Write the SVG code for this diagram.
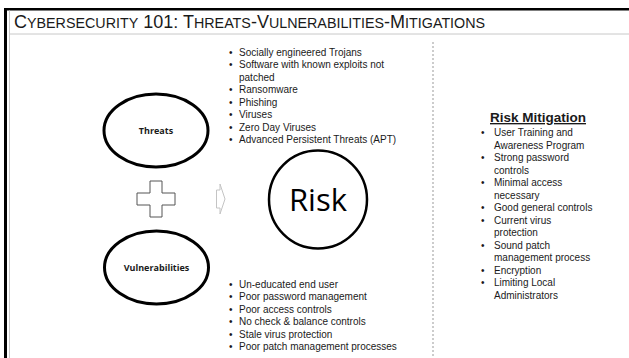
<svg xmlns="http://www.w3.org/2000/svg" width="629" height="358" viewBox="0 0 629 358">
<style>
.list{font-family:"Liberation Sans",Arial,sans-serif;font-size:10px;fill:#1a1a1a}
.lbl{font-family:"Open Sans","Noto Sans",sans-serif;font-size:9px;font-weight:bold;fill:#1a1a1a;text-anchor:middle}
.oval{fill:#fff;stroke:#000;stroke-width:3}
.big{font-size:18px}
.sm{font-size:14.3px}
</style>
<rect x="0" y="0" width="629" height="358" fill="#fff"/>
<g id="frame">
<rect x="4" y="8" width="3" height="350" fill="#000"/>
<rect x="4" y="8" width="625" height="2.5" fill="#000"/>
<line x1="9.5" y1="10.5" x2="9.5" y2="358" stroke="#c8c8c8" stroke-width="1"/>
<line x1="9.5" y1="34" x2="629" y2="34" stroke="#c8c8c8" stroke-width="1"/>
<line x1="433" y1="42" x2="433" y2="358" stroke="#999" stroke-width="1" stroke-dasharray="2 2"/>
</g>
<g id="title">
<text x="14" y="28" font-family="Liberation Sans,Arial,sans-serif" fill="#1a1a1a"><tspan class="big">C</tspan><tspan class="sm">YBERSECURITY</tspan><tspan class="big"> 101: T</tspan><tspan class="sm">HREATS</tspan><tspan class="big">-V</tspan><tspan class="sm">ULNERABILITIES</tspan><tspan class="big">-M</tspan><tspan class="sm">ITIGATIONS</tspan></text>
</g>
<g id="threats">
<ellipse class="oval" cx="156" cy="130.5" rx="52" ry="36.5"/>
<text class="lbl" x="156" y="134">Threats</text>
</g>
<g id="vulnerabilities">
<ellipse class="oval" cx="156.5" cy="267.5" rx="52" ry="36.5"/>
<text class="lbl" x="156.5" y="271">Vulnerabilities</text>
</g>
<g id="plus">
<path d="M150,181 H162 V193 H175 V205 H162 V217 H150 V205 H137 V193 H150 Z" fill="#fff" stroke="#555" stroke-width="1"/>
</g>
<g id="connectors">
<path d="M216.5,190 H220 V184 L225,199 L220,214 V208 H216.5 Z" fill="#fff" stroke="#c4c4c4" stroke-width="1"/>
</g>
<g id="risk">
<circle cx="318" cy="199.5" r="49" fill="#fff" stroke="#000" stroke-width="2.5"/>
<text x="318" y="210.5" text-anchor="middle" font-family="Open Sans,Noto Sans,sans-serif" font-size="31" fill="#000">Risk</text>
</g>
<g id="threats-list" class="list">
<text x="229" y="55.5">•</text><text x="239" y="55.5">Socially engineered Trojans</text>
<text x="229" y="68">•</text><text x="239" y="68">Software with known exploits not</text>
<text x="239" y="80.5">patched</text>
<text x="229" y="93">•</text><text x="239" y="93">Ransomware</text>
<text x="229" y="105.5">•</text><text x="239" y="105.5">Phishing</text>
<text x="229" y="118">•</text><text x="239" y="118">Viruses</text>
<text x="229" y="130.5">•</text><text x="239" y="130.5">Zero Day Viruses</text>
<text x="229" y="143">•</text><text x="239" y="143">Advanced Persistent Threats (APT)</text>
</g>
<g id="vulnerabilities-list" class="list">
<text x="229" y="287.5">•</text><text x="239" y="287.5">Un-educated end user</text>
<text x="229" y="300">•</text><text x="239" y="300">Poor password management</text>
<text x="229" y="312.5">•</text><text x="239" y="312.5">Poor access controls</text>
<text x="229" y="325">•</text><text x="239" y="325">No check &amp; balance controls</text>
<text x="229" y="337.5">•</text><text x="239" y="337.5">Stale virus protection</text>
<text x="229" y="350">•</text><text x="239" y="350">Poor patch management processes</text>
</g>
<g id="mitigation" class="list">
<text x="490" y="122" font-size="13.5" font-weight="bold" text-decoration="underline">Risk Mitigation</text>
<text x="481" y="136">•</text><text x="494" y="136">User Training and</text>
<text x="494" y="148.5">Awareness Program</text>
<text x="481" y="161">•</text><text x="494" y="161">Strong password</text>
<text x="494" y="173.5">controls</text>
<text x="481" y="186">•</text><text x="494" y="186">Minimal access</text>
<text x="494" y="198.5">necessary</text>
<text x="481" y="211">•</text><text x="494" y="211">Good general controls</text>
<text x="481" y="223.5">•</text><text x="494" y="223.5">Current virus</text>
<text x="494" y="236">protection</text>
<text x="481" y="248.5">•</text><text x="494" y="248.5">Sound patch</text>
<text x="494" y="261">management process</text>
<text x="481" y="273.5">•</text><text x="494" y="273.5">Encryption</text>
<text x="481" y="286">•</text><text x="494" y="286">Limiting Local</text>
<text x="494" y="298.5">Administrators</text>
</g>
</svg>
